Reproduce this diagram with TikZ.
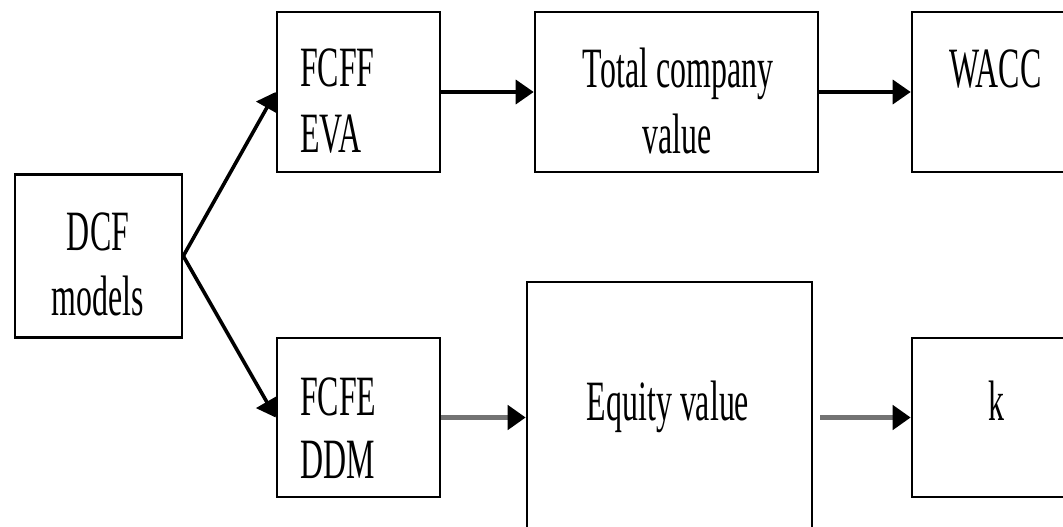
\documentclass[tikz,border=0pt]{standalone}
\usepackage{fontspec}
\setmainfont{Liberation Serif}[FakeStretch=0.56]
\usetikzlibrary{arrows.meta}
\tikzset{
  box/.style={draw, line width=2.6pt, inner sep=0pt},
  lbl/.style={inner sep=0pt, font=\fontsize{57}{65}\selectfont},
  arr/.style={line width=3.6pt, -{Triangle[length=18pt,width=24pt]}},
  grayarr/.style={line width=4.6pt, draw=black!55, -{Triangle[length=18pt,width=24pt,color=black]}}
}
\begin{document}
\begin{tikzpicture}[x=1pt,y=-1pt]
\useasboundingbox (0,0) rectangle (1063,527);
\clip (0,0) rectangle (1063,527);

% boxes
\node[box, minimum width=167pt, minimum height=163pt] (dcf)  at (98.5,256) {};
\node[box, minimum width=163pt, minimum height=160pt] (fcff) at (358.5,92) {};
\node[box, minimum width=283pt, minimum height=160pt] (tcv)  at (676.5,92) {};
\node[box, minimum width=168pt, minimum height=160pt] (wacc) at (996,92) {};
\node[box, minimum width=163pt, minimum height=159pt] (fcfe) at (358.5,417.5) {};
\node[box, minimum width=285pt, minimum height=278pt] (eq)   at (669.5,421) {};
\node[box, minimum width=168pt, minimum height=159pt] (k)    at (996,417.5) {};

% texts
\node[lbl, anchor=base] (dcfa) at (98,250) {DCF};
\node[lbl, anchor=base] (dcfb) at (98,315) {models};
\node[lbl, anchor=base west] (fcffa) at (300,87) {FCFF};
\node[lbl, anchor=base west] (fcffb) at (300,152) {EVA};
\node[lbl, anchor=base] (tcva) at (678,88) {Total company};
\node[lbl, anchor=base] (tcvb) at (677,153) {value};
\node[lbl, anchor=base west] (wacca) at (949,88) {WACC};
\node[lbl, anchor=base west] (fcfea) at (300,415) {FCFE};
\node[lbl, anchor=base west] (fcfeb) at (300,478) {DDM};
\node[lbl, anchor=base] (eqa) at (668,420) {Equity value};
\node[lbl, anchor=base] (ka) at (996,420) {k};

% connectors
\draw[arr] (dcf.east) -- (fcff.west);
\draw[arr] (dcf.east) -- (fcfe.west);
\draw[arr] (fcff.east) -- (tcv.west);
\draw[arr] (tcv.east) -- (wacc.west);
\draw[grayarr] (fcfe.east) -- (fcfe.east -| eq.west);
\draw[grayarr, shorten <=7pt] (k.west -| eq.east) -- (k.west);
\end{tikzpicture}
\end{document}
